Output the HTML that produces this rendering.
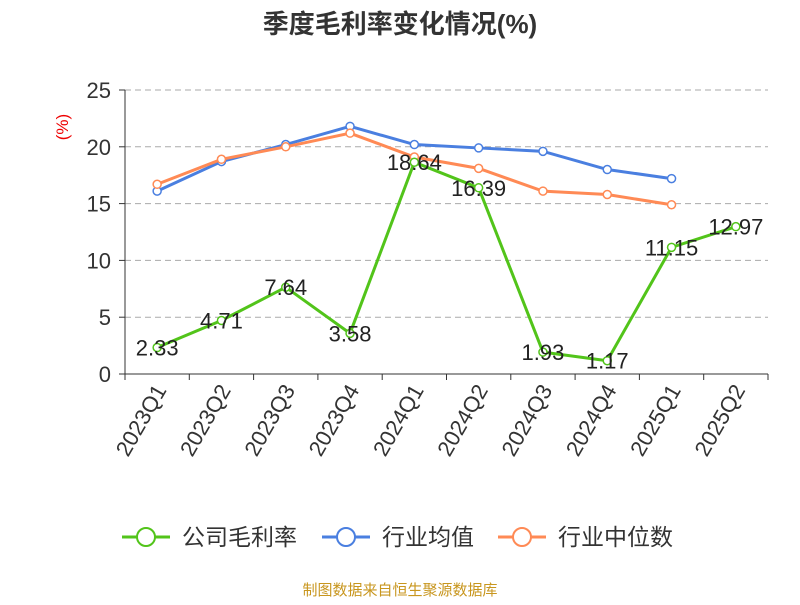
<!DOCTYPE html>
<html><head><meta charset="utf-8"><style>
body{margin:0;background:#fff;font-family:"Liberation Sans","Noto Sans CJK SC",sans-serif;}
svg text{font-family:"Liberation Sans","Noto Sans CJK SC",sans-serif;}
</style></head><body>
<svg id="chart" width="800" height="600" xmlns="http://www.w3.org/2000/svg">
<text x="400" y="33" text-anchor="middle" font-size="26" font-weight="bold" fill="#333">季度毛利率变化情况(%)</text>
<text x="68" y="127" text-anchor="middle" font-size="17" fill="#e00" transform="rotate(-90 68 127)">(%)</text>
<g id="grid"></g><g id="axes"></g><g id="series"></g>
<g>
<g><line x1="122" y1="537" x2="170" y2="537" stroke="#52c41a" stroke-width="3"/><circle cx="146" cy="537" r="9" fill="#fff" stroke="#52c41a" stroke-width="2"/><text x="182" y="545" font-size="23" fill="#333">公司毛利率</text></g>
<g><line x1="322" y1="537" x2="370" y2="537" stroke="#4a7fe0" stroke-width="3"/><circle cx="346" cy="537" r="9" fill="#fff" stroke="#4a7fe0" stroke-width="2"/><text x="382" y="545" font-size="23" fill="#333">行业均值</text></g>
<g><line x1="498" y1="537" x2="546" y2="537" stroke="#ff8a55" stroke-width="3"/><circle cx="522" cy="537" r="9" fill="#fff" stroke="#ff8a55" stroke-width="2"/><text x="558" y="545" font-size="23" fill="#333">行业中位数</text></g>
</g>
<text x="400" y="595" text-anchor="middle" font-size="15" fill="#c8961e">制图数据来自恒生聚源数据库</text>
</svg>
<script>
const categories=["2023Q1","2023Q2","2023Q3","2023Q4","2024Q1","2024Q2","2024Q3","2024Q4","2025Q1","2025Q2"];
const companyValues=[2.33,4.71,7.64,3.58,18.64,16.39,1.93,1.17,11.15,12.97];
const industryAvg=[16.1,18.7,20.2,21.8,20.2,19.9,19.6,18.0,17.2];
const industryMedian=[16.7,18.9,20.0,21.2,19.1,18.1,16.1,15.8,14.9];
const yTicks=[0,5,10,15,20,25];
const NS="http://www.w3.org/2000/svg";
const X0=125,X1=768,Y0=374,Y1=90,YMAX=25;
const bw=(X1-X0)/categories.length;
const x=i=>X0+bw*(i+0.5);
const y=v=>Y0-(v/YMAX)*(Y0-Y1);
function mk(tag,attrs,parent,text){const e=document.createElementNS(NS,tag);for(const k in attrs)e.setAttribute(k,attrs[k]);if(text!==undefined)e.textContent=text;parent.appendChild(e);return e;}
const grid=document.getElementById('grid'),axes=document.getElementById('axes'),series=document.getElementById('series');
yTicks.forEach(t=>{
 if(t>0){const g=mk('line',{x1:X0,x2:X1,y1:y(t),y2:y(t),stroke:'#aaa','stroke-dasharray':'6,4'},grid);
 
 }
 const tk=mk('line',{x1:X0-6,x2:X0,y1:y(t),y2:y(t),stroke:'#333'},axes);
 
 
 const lb=mk('text',{x:X0-14,y:y(t)+8,'text-anchor':'end','font-size':22,fill:'#333'},axes,String(t));
 
 
});
const ya=mk('line',{x1:X0,x2:X0,y1:Y1,y2:Y0,stroke:'#333'},axes);


const xa=mk('line',{x1:X0,x2:X1,y1:Y0,y2:Y0,stroke:'#333'},axes);


for(let i=0;i<=categories.length;i++){const t=mk('line',{x1:X0+bw*i,x2:X0+bw*i,y1:Y0,y2:Y0+6,stroke:'#333'},axes);
 
 }
categories.forEach((c,i)=>{const tx=x(i)+10,ty=Y0+16;
 const l=mk('text',{x:tx,y:ty,'text-anchor':'end','font-size':22,fill:'#333',transform:`rotate(-60 ${tx} ${ty})`},axes,c);
 
 });
function draw(vals,color,name,labels){
 const p=mk('polyline',{points:vals.map((v,i)=>x(i)+','+y(v)).join(' '),fill:'none',stroke:color,'stroke-width':3},series);
 
 
 vals.forEach((v,i)=>{const c=mk('circle',{cx:x(i),cy:y(v),r:4,fill:'#fff',stroke:color,'stroke-width':1.5},series);
  
  
  if(labels){const t=mk('text',{x:x(i),y:y(v)+8,'text-anchor':'middle','font-size':22,fill:'#222'},series,v.toFixed(2));
   
   }
 });
}
draw(industryAvg,'#4a7fe0','industry-avg',false);
draw(industryMedian,'#ff8a55','industry-median',false);
draw(companyValues,'#52c41a','company',true);
</script>
</body></html>
